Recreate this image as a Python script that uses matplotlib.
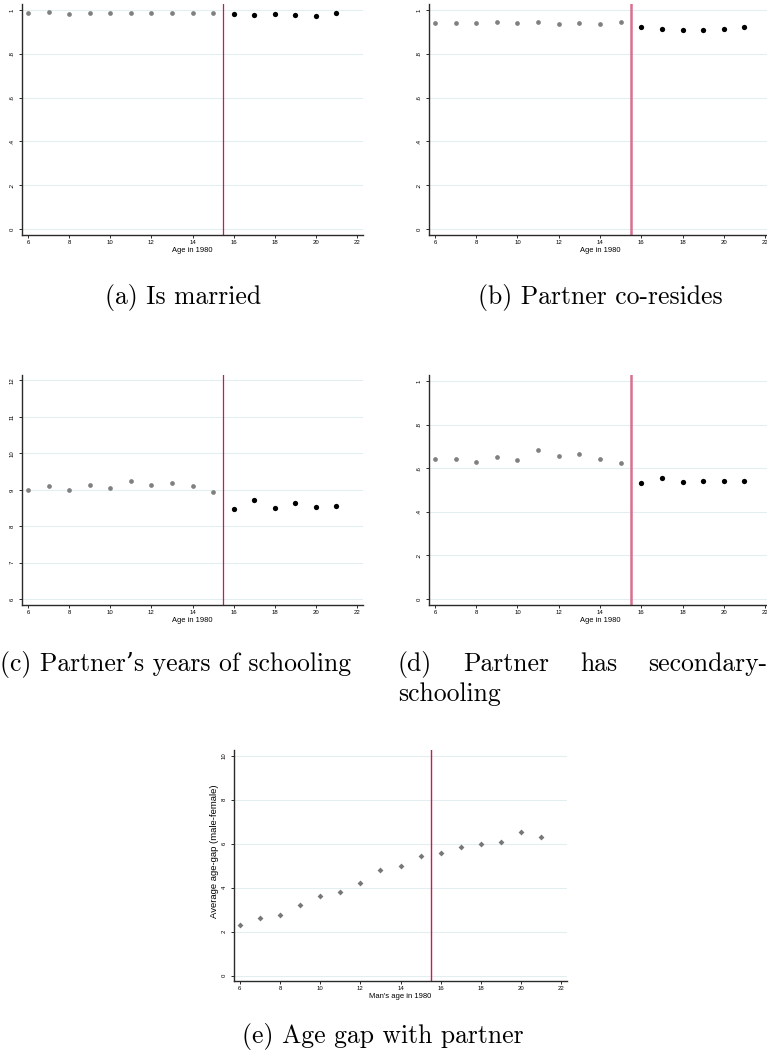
import matplotlib
matplotlib.use("Agg")
import matplotlib.pyplot as plt
import numpy as np

# ---------------- data ----------------
ages_pre = [6, 7, 8, 9, 10, 11, 12, 13, 14, 15]
ages_post = [16, 17, 18, 19, 20, 21]
ages_all = ages_pre + ages_post

married_pre = [0.986, 0.991, 0.983, 0.986, 0.988, 0.986, 0.986, 0.988, 0.986, 0.988]
married_post = [0.982, 0.977, 0.983, 0.976, 0.974, 0.988]

coreside_pre = [0.942, 0.939, 0.939, 0.945, 0.941, 0.947, 0.938, 0.942, 0.938, 0.944]
coreside_post = [0.921, 0.914, 0.907, 0.910, 0.912, 0.923]

school_pre = [8.99, 9.11, 9.00, 9.13, 9.06, 9.25, 9.13, 9.18, 9.10, 8.94]
school_post = [8.47, 8.72, 8.50, 8.63, 8.54, 8.55]

secondary_pre = [0.641, 0.642, 0.630, 0.651, 0.639, 0.685, 0.656, 0.667, 0.644, 0.623]
secondary_post = [0.533, 0.553, 0.536, 0.541, 0.541, 0.542]

agegap = [2.28, 2.61, 2.76, 3.19, 3.63, 3.78, 4.19, 4.81, 4.96, 5.42,
          5.57, 5.86, 5.99, 6.05, 6.51, 6.31]

xticks = [6, 8, 10, 12, 14, 16, 18, 20, 22]
yticks_share = [0, 0.2, 0.4, 0.6, 0.8, 1.0]
yticklabels_share = ["0", ".2", ".4", ".6", ".8", "1"]
yticks_school = [6, 7, 8, 9, 10, 11, 12]
yticks_gap = [0, 2, 4, 6, 8, 10]

captions = ["(a) Is married", "(b) Partner co-resides",
            "(c) Partner\u2019s years of schooling"]
caption_d_words = ["(d)", "Partner", "has", "secondary-"]
caption_d_line2 = "schooling"
caption_e = "(e) Age gap with partner"
cutoff = 15.5

# ---------------- figure ----------------
W, H = 767, 1057
fig = plt.figure(figsize=(W / 100, H / 100), dpi=100)

sans = ["Liberation Sans", "DejaVu Sans"]
GRID = "#e4edf0"
SPINE = "#2a2a2a"
GRAY = "#808080"


def add_ax(left, top, right, bottom):
    return fig.add_axes([left / W, 1 - bottom / H, (right - left) / W, (bottom - top) / H])


def style(ax, yt, ylabels, ylim, xlabel, xlabelsize=5.4):
    ax.set_xlim(5.71, 22.29)
    ax.set_ylim(*ylim)
    ax.set_xticks(xticks)
    ax.set_xticklabels([str(t) for t in xticks], fontsize=4.3, family=sans)
    ax.set_yticks(yt)
    ax.set_yticklabels(ylabels, fontsize=4.3, family=sans, rotation=90, va="center")
    for s in ["top", "right"]:
        ax.spines[s].set_visible(False)
    for s in ["left", "bottom"]:
        ax.spines[s].set_color(SPINE)
        ax.spines[s].set_linewidth(1.0)
    ax.tick_params(axis="both", length=2.2, width=0.7, color=SPINE, pad=1.2)
    ax.tick_params(axis="y", pad=3)
    ax.yaxis.grid(True, color=GRID, lw=0.8)
    ax.set_axisbelow(True)
    ax.set_xlabel(xlabel, fontsize=xlabelsize, family=sans, labelpad=1.5)


def rd_panel(ax, pre, post, yt, ylabels, ylim, red, redlw):
    style(ax, yt, ylabels, ylim, "Age in 1980")
    ax.axvline(cutoff, color=red, lw=redlw, zorder=2)
    ax.plot(ages_pre, pre, "o", color=GRAY, ms=3.4, mec="none", zorder=3)
    ax.plot(ages_post, post, "o", color="black", ms=3.8, mec="none", zorder=3)


RED1 = "#cc1a4a"
RED2 = "#d9708e"

ax_a = add_ax(22, 4, 363, 235)
rd_panel(ax_a, married_pre, married_post, yticks_share, yticklabels_share,
         (-0.027, 1.027), RED1, 0.9)

ax_b = add_ax(429, 4, 771, 235)
rd_panel(ax_b, coreside_pre, coreside_post, yticks_share, yticklabels_share,
         (-0.027, 1.027), RED2, 1.8)

ax_c = add_ax(22, 375, 363, 605)
rd_panel(ax_c, school_pre, school_post, yticks_school, [str(t) for t in yticks_school],
         (5.84, 12.15), RED1, 0.9)

ax_d = add_ax(429, 375, 771, 605)
rd_panel(ax_d, secondary_pre, secondary_post, yticks_share, yticklabels_share,
         (-0.027, 1.027), RED2, 1.8)

ax_e = add_ax(234, 750, 567, 981)
style(ax_e, yticks_gap, [str(t) for t in yticks_gap], (-0.25, 10.25),
      "Man's age in 1980", xlabelsize=5.5)
ax_e.set_ylabel("Average age-gap (male-female)", fontsize=6.8, family=sans)
ax_e.yaxis.set_label_coords(-0.045, 0.56)
ax_e.axvline(cutoff, color=RED1, lw=1.0, zorder=2)
ax_e.plot(ages_all, agegap, "D", color="#777777", ms=3.0, mec="none", zorder=3)

# ---------------- captions ----------------
CAP = dict(family=["cmr10", "DejaVu Serif"], fontsize=18.5)


def fx(px):
    return px / W


def fy(py):
    return 1 - py / H


fig.text(fx(183), fy(304), captions[0], ha="center", va="baseline", **CAP)
fig.text(fx(600), fy(304), captions[1], ha="center", va="baseline", **CAP)
fig.text(fx(0), fy(671), captions[2], ha="left", va="baseline", **CAP)

# justified caption (d)
renderer = fig.canvas.get_renderer()
left_px, right_px = 398, 767
tmp = [fig.text(0, 0, w, **CAP) for w in caption_d_words]
widths = [t.get_window_extent(renderer).width for t in tmp]
for t in tmp:
    t.remove()
gap = (right_px - left_px - sum(widths)) / (len(caption_d_words) - 1)
x = left_px
for w, wd in zip(caption_d_words, widths):
    fig.text(fx(x), fy(671), w, ha="left", va="baseline", **CAP)
    x += wd + gap
fig.text(fx(left_px), fy(701), caption_d_line2, ha="left", va="baseline", **CAP)

fig.text(fx(383), fy(1043), caption_e, ha="center", va="baseline", **CAP)

fig.savefig("out.png", dpi=100)
